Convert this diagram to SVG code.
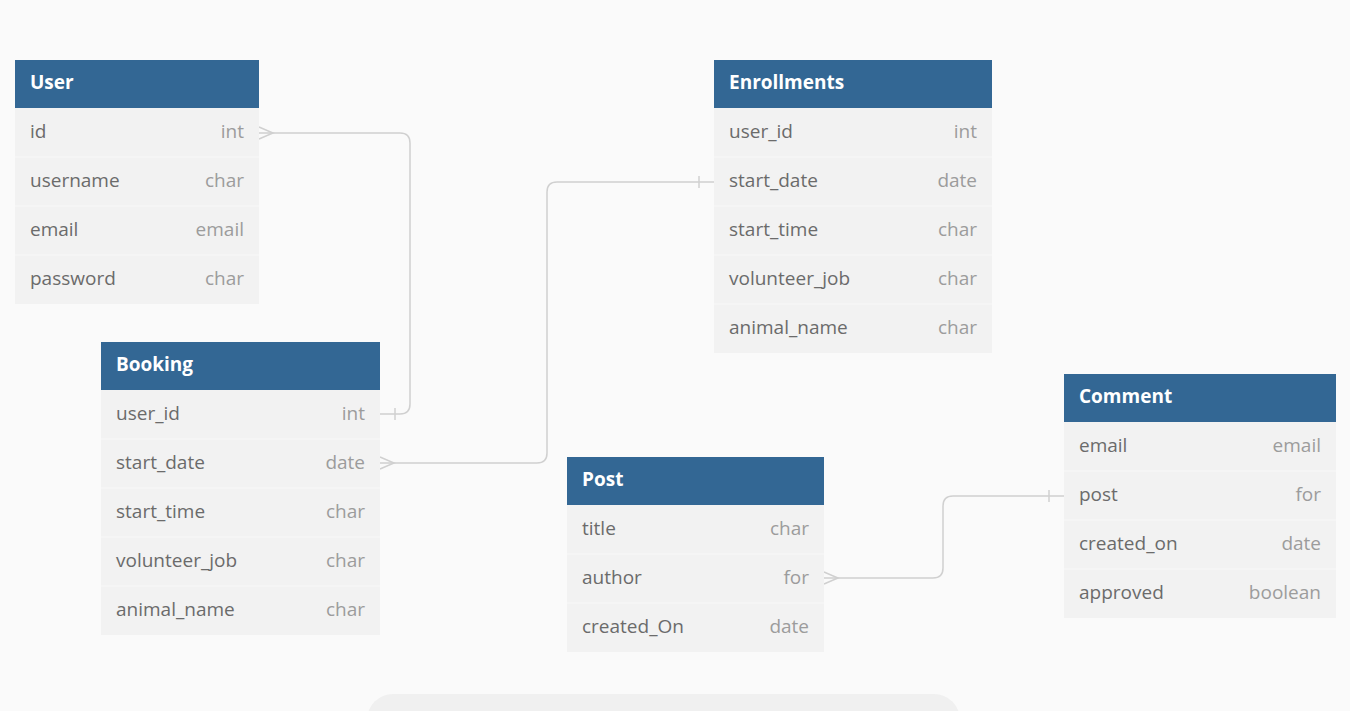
<svg xmlns="http://www.w3.org/2000/svg" width="1350" height="711" viewBox="0 0 1350 711">
<style>
.hdr{fill:#336794}
.row{fill:#f2f2f2}
.sep{stroke:#f8f8f8;stroke-width:1}
.title{font-family:"Open Sans","Liberation Sans",sans-serif;font-size:19px;font-weight:bold;fill:#ffffff}
.fn{font-family:"Open Sans","Liberation Sans",sans-serif;font-size:19px;fill:#6b6b6b}
.ft{font-family:"Open Sans","Liberation Sans",sans-serif;font-size:19px;fill:#9c9c9c;text-anchor:end}
.con{fill:none;stroke:#d0d0d0;stroke-width:1.5}
</style>
<rect width="1350" height="711" fill="#fafafa"/>
<rect x="367" y="694" width="593" height="60" rx="26" fill="#f0f0f0"/>

<g id="connectors">
  <path class="con" d="M259,133 H400 Q410,133 410,143 V404 Q410,414 400,414 H380"/>
  <path class="con" d="M259,127 L273,133 L259,139"/>
  <path class="con" d="M395,408 V420"/>

  <path class="con" d="M380,463 H537 Q547,463 547,453 V192 Q547,182 557,182 H714"/>
  <path class="con" d="M380,457 L394,463 L380,469"/>
  <path class="con" d="M699,176 V188"/>

  <path class="con" d="M824,578 H933 Q943,578 943,568 V506 Q943,496 953,496 H1064"/>
  <path class="con" d="M824,572 L838,578 L824,584"/>
  <path class="con" d="M1049,490 V502"/>
</g>

<g id="User">
  <rect class="hdr" x="15" y="60" width="244" height="48"/>
  <text class="title" x="30" y="89">User</text>
  <rect class="row" x="15" y="108" width="244" height="196"/>
  <line class="sep" x1="15" y1="157" x2="259" y2="157"/>
  <line class="sep" x1="15" y1="206" x2="259" y2="206"/>
  <line class="sep" x1="15" y1="255" x2="259" y2="255"/>
  <text class="fn" x="30" y="138">id</text><text class="ft" x="244" y="138">int</text>
  <text class="fn" x="30" y="187">username</text><text class="ft" x="244" y="187">char</text>
  <text class="fn" x="30" y="236">email</text><text class="ft" x="244" y="236">email</text>
  <text class="fn" x="30" y="285">password</text><text class="ft" x="244" y="285">char</text>
</g>

<g id="Booking">
  <rect class="hdr" x="101" y="342" width="279" height="48"/>
  <text class="title" x="116" y="371">Booking</text>
  <rect class="row" x="101" y="390" width="279" height="245"/>
  <line class="sep" x1="101" y1="439" x2="380" y2="439"/>
  <line class="sep" x1="101" y1="488" x2="380" y2="488"/>
  <line class="sep" x1="101" y1="537" x2="380" y2="537"/>
  <line class="sep" x1="101" y1="586" x2="380" y2="586"/>
  <text class="fn" x="116" y="420">user_id</text><text class="ft" x="365" y="420">int</text>
  <text class="fn" x="116" y="469">start_date</text><text class="ft" x="365" y="469">date</text>
  <text class="fn" x="116" y="518">start_time</text><text class="ft" x="365" y="518">char</text>
  <text class="fn" x="116" y="567">volunteer_job</text><text class="ft" x="365" y="567">char</text>
  <text class="fn" x="116" y="616">animal_name</text><text class="ft" x="365" y="616">char</text>
</g>

<g id="Enrollments">
  <rect class="hdr" x="714" y="60" width="278" height="48"/>
  <text class="title" x="729" y="89">Enrollments</text>
  <rect class="row" x="714" y="108" width="278" height="245"/>
  <line class="sep" x1="714" y1="157" x2="992" y2="157"/>
  <line class="sep" x1="714" y1="206" x2="992" y2="206"/>
  <line class="sep" x1="714" y1="255" x2="992" y2="255"/>
  <line class="sep" x1="714" y1="304" x2="992" y2="304"/>
  <text class="fn" x="729" y="138">user_id</text><text class="ft" x="977" y="138">int</text>
  <text class="fn" x="729" y="187">start_date</text><text class="ft" x="977" y="187">date</text>
  <text class="fn" x="729" y="236">start_time</text><text class="ft" x="977" y="236">char</text>
  <text class="fn" x="729" y="285">volunteer_job</text><text class="ft" x="977" y="285">char</text>
  <text class="fn" x="729" y="334">animal_name</text><text class="ft" x="977" y="334">char</text>
</g>

<g id="Post">
  <rect class="hdr" x="567" y="457" width="257" height="48"/>
  <text class="title" x="582" y="486">Post</text>
  <rect class="row" x="567" y="505" width="257" height="147"/>
  <line class="sep" x1="567" y1="554" x2="824" y2="554"/>
  <line class="sep" x1="567" y1="603" x2="824" y2="603"/>
  <text class="fn" x="582" y="535">title</text><text class="ft" x="809" y="535">char</text>
  <text class="fn" x="582" y="584">author</text><text class="ft" x="809" y="584">for</text>
  <text class="fn" x="582" y="633">created_On</text><text class="ft" x="809" y="633">date</text>
</g>

<g id="Comment">
  <rect class="hdr" x="1064" y="374" width="272" height="48"/>
  <text class="title" x="1079" y="403">Comment</text>
  <rect class="row" x="1064" y="422" width="272" height="196"/>
  <line class="sep" x1="1064" y1="471" x2="1336" y2="471"/>
  <line class="sep" x1="1064" y1="520" x2="1336" y2="520"/>
  <line class="sep" x1="1064" y1="569" x2="1336" y2="569"/>
  <text class="fn" x="1079" y="452">email</text><text class="ft" x="1321" y="452">email</text>
  <text class="fn" x="1079" y="501">post</text><text class="ft" x="1321" y="501">for</text>
  <text class="fn" x="1079" y="550">created_on</text><text class="ft" x="1321" y="550">date</text>
  <text class="fn" x="1079" y="599">approved</text><text class="ft" x="1321" y="599">boolean</text>
</g>
</svg>
